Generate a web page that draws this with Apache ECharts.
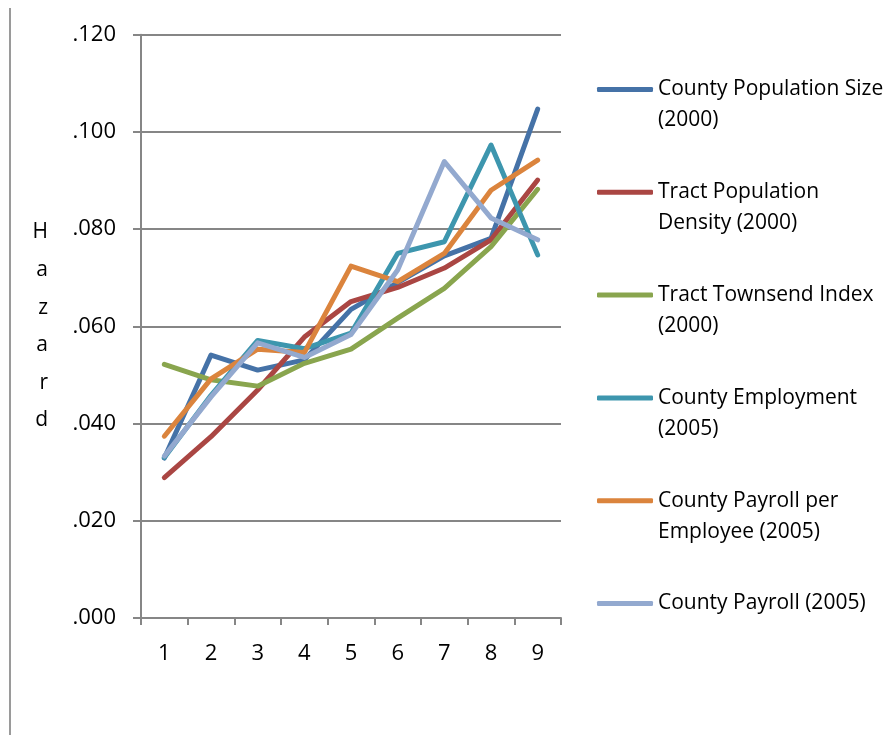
<!DOCTYPE html>
<html>
<head>
<meta charset="utf-8">
<script src="https://cdn.jsdelivr.net/npm/echarts@6/dist/echarts.min.js"></script>
<style>
  html, body { margin: 0; padding: 0; background: #fff; }
  #main { width: 891px; height: 735px; }
</style>
</head>
<body>
<div id="main"></div>
<script>
// categories on the x axis
const categories = ['1', '2', '3', '4', '5', '6', '7', '8', '9'];

// hazard values
const countyPopSize   = [0.0329, 0.0541, 0.0510, 0.0531, 0.0635, 0.0690, 0.0745, 0.0781, 0.1047];
const tractPopDensity = [0.0289, 0.0373, 0.0469, 0.0578, 0.0651, 0.0680, 0.0720, 0.0778, 0.0901];
const tractTownsend   = [0.0522, 0.0490, 0.0477, 0.0524, 0.0553, 0.0617, 0.0678, 0.0764, 0.0882];
const countyEmploy    = [0.0330, 0.0458, 0.0571, 0.0554, 0.0586, 0.0750, 0.0774, 0.0973, 0.0747];
const payrollPerEmp   = [0.0374, 0.0492, 0.0553, 0.0546, 0.0724, 0.0692, 0.0750, 0.0880, 0.0942];
const countyPayroll   = [0.0333, 0.0455, 0.0566, 0.0536, 0.0583, 0.0716, 0.0939, 0.0823, 0.0778];

const seriesNames = [
  'County Population Size (2000)',
  'Tract Population Density (2000)',
  'Tract Townsend Index (2000)',
  'County Employment (2005)',
  'County Payroll per Employee (2005)',
  'County Payroll (2005)'
];
// how the legend wraps each name
const legendText = [
  'County Population Size\n(2000)',
  'Tract Population\nDensity (2000)',
  'Tract Townsend Index\n(2000)',
  'County Employment\n(2005)',
  'County Payroll per\nEmployee (2005)',
  'County Payroll (2005)\n '
];
const seriesData = [countyPopSize, tractPopDensity, tractTownsend, countyEmploy, payrollPerEmp, countyPayroll];
const colors = ['#4572A7', '#AA4643', '#89A54E', '#3D96AE', '#DB843D', '#93A9CF'];

const font = '"Open Sans", sans-serif';

const chart = echarts.init(document.getElementById('main'));

const option = {
  animation: false,
  color: colors,
  textStyle: { fontFamily: font },
  graphic: [
    // chart area border on the left
    { type: 'line', shape: { x1: 10, y1: 8, x2: 10, y2: 735 }, style: { stroke: '#9a9a9a', lineWidth: 2 } }
  ],
  grid: { left: 141, right: 330, top: 34.7, bottom: 117, containLabel: false },
  legend: {
    orient: 'vertical',
    left: 597,
    top: 43,
    padding: 0,
    itemWidth: 56,
    itemHeight: 5,
    itemGap: 9.8,
    icon: 'roundRect',
    // blank first line so the first text line sits level with the icon
    formatter: name => ' \n' + legendText[seriesNames.indexOf(name)],
    textStyle: {
      fontFamily: font,
      fontSize: 21,
      color: '#000',
      lineHeight: 31
    },
    data: seriesNames
  },
  xAxis: {
    type: 'category',
    data: categories,
    boundaryGap: true,
    axisLine: { lineStyle: { color: '#868686', width: 2 } },
    axisTick: { show: true, length: 7, lineStyle: { color: '#868686', width: 2 } },
    axisLabel: { color: '#000', fontSize: 22, margin: 25, fontFamily: font }
  },
  yAxis: {
    type: 'value',
    min: 0,
    max: 0.12,
    interval: 0.02,
    name: 'H\na\nz\na\nr\nd',
    nameLocation: 'middle',
    nameRotate: 0,
    nameGap: 93,
    nameTextStyle: { color: '#000', fontSize: 21, lineHeight: 37.6, fontFamily: font, padding: [12, 0, 0, 0] },
    axisLine: { show: true, lineStyle: { color: '#868686', width: 2 } },
    axisTick: { show: true, length: 8, lineStyle: { color: '#868686', width: 2 } },
    splitLine: { lineStyle: { color: '#868686', width: 2 } },
    axisLabel: {
      color: '#000',
      fontSize: 22,
      margin: 25,
      fontFamily: font,
      formatter: v => v.toFixed(3).replace(/^0/, '')
    }
  },
  series: seriesData.map((d, i) => ({
    name: seriesNames[i],
    type: 'line',
    data: d,
    symbol: 'none',
    lineStyle: { width: 5, cap: 'round', join: 'round' }
  }))
};

chart.setOption(option);
</script>
</body>
</html>
